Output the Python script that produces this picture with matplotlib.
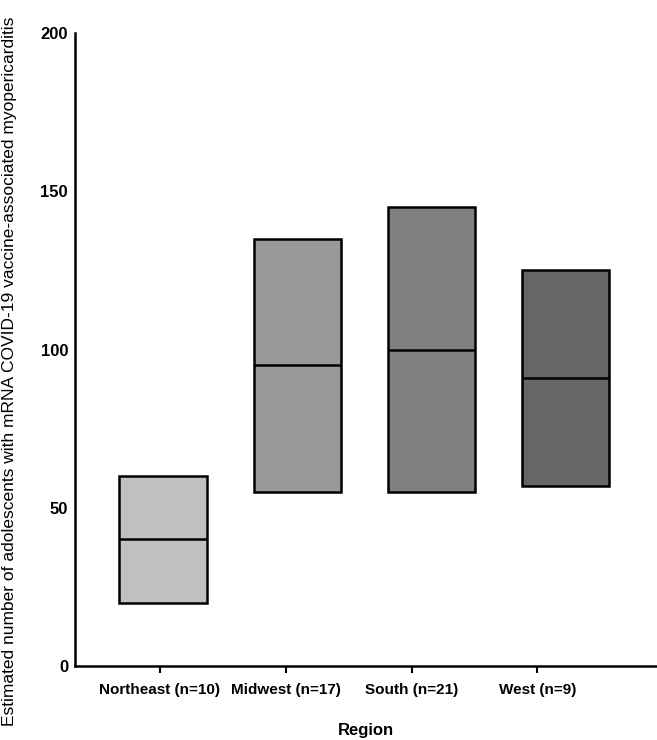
import numpy as np
import matplotlib.pyplot as plt

plt.rcParams['font.family'] = ['Liberation Sans', 'DejaVu Sans']

regions = ["Northeast (n=10)", "Midwest (n=17)", "South (n=21)", "West (n=9)"]
low = [20, 55, 55, 57]
median = [40, 95, 100, 91]
high = [60, 135, 145, 125]
colors = ["#c0c0c0", "#999999", "#808080", "#666666"]

fig = plt.figure(figsize=(6.57, 7.4), dpi=100)
ax = fig.add_axes([75/657, 1-666/740, 1-75/657, (666-33)/740])

idx = np.arange(len(regions))
width = 0.65
heights = np.array(high) - np.array(low)
ax.bar(idx, heights, width, bottom=low, color=colors, edgecolor="black", linewidth=1.8, zorder=2)
for i in idx:
    ax.plot([i - width/2, i + width/2], [median[i], median[i]], color="black", lw=1.8, zorder=3,
            solid_capstyle="butt")

ax.set_xlim(-0.655, 3.68)
ax.set_ylim(0, 200)
ax.set_yticks([0, 50, 100, 150, 200])
ax.tick_params(axis="y", length=0, pad=5, labelsize=12)
# category ticks sit slightly left of the boxes, as in the original
ax.set_xticks(idx * 0.937 - 0.022)
ax.set_xticklabels(regions, fontweight="bold", fontsize=11)
ax.tick_params(axis="x", length=5, width=1.5, pad=7)
for lab in ax.get_yticklabels():
    lab.set_fontweight("bold")

ax.spines["top"].set_visible(False)
ax.spines["right"].set_visible(False)
ax.spines["left"].set_linewidth(1.8)
ax.spines["bottom"].set_linewidth(1.8)

ax.set_xlabel("Region", fontweight="bold", fontsize=12, labelpad=19)
fig.text(10/657, 1-371/740, "Estimated number of adolescents with mRNA COVID-19 vaccine-associated myopericarditis",
         rotation=90, ha="center", va="center", fontsize=12.5)

plt.savefig("out.png", dpi=100)
